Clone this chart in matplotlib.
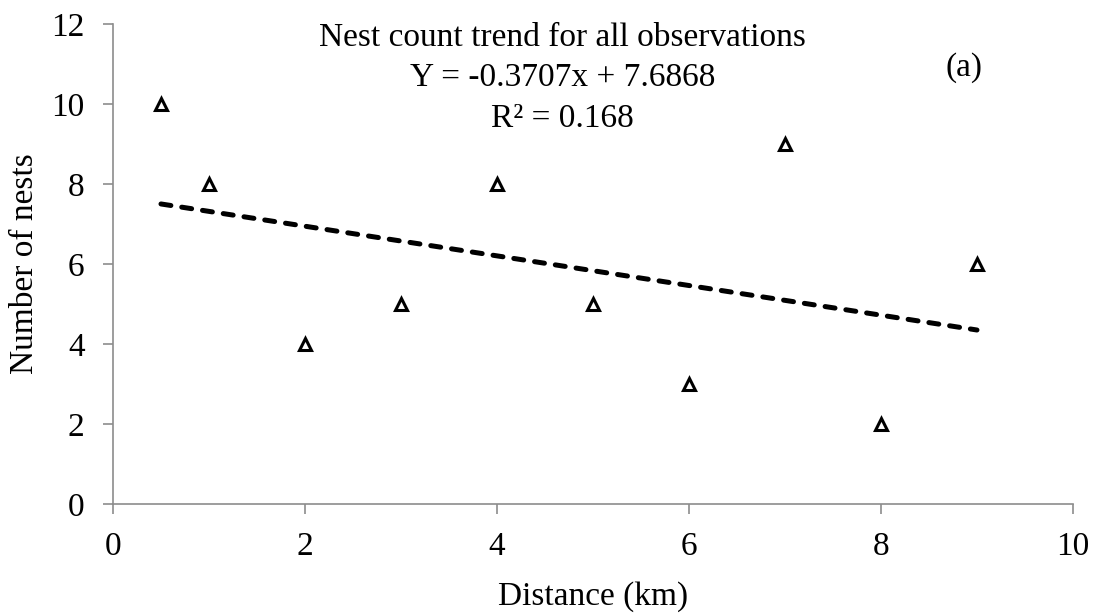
import numpy as np
from matplotlib import pyplot as plt

# Datos
distancia = [0.5, 1, 2, 3, 4, 5, 6, 7, 8, 9]
nidos = [10, 8, 4, 5, 8, 5, 3, 9, 2, 6]
xticks = [0, 2, 4, 6, 8, 10]
yticks = [0, 2, 4, 6, 8, 10, 12]

plt.rcParams['font.family'] = ['Liberation Serif', 'DejaVu Serif']

# Ajuste lineal (línea de tendencia)
m, b = np.polyfit(distancia, nidos, 1)
xs = np.array([min(distancia), max(distancia)])

fig = plt.figure(figsize=(10.98, 6.16), dpi=100)
ax = fig.add_axes([0.1029, 0.1818, 0.8743, 0.7792])

ax.plot(xs, m * xs + b, color='black', linewidth=3.6,
        linestyle=(0, (2.0, 2.2)), dash_capstyle='round')
ax.plot(distancia, nidos, '^', markersize=9, markerfacecolor='white',
        markeredgecolor='black', markeredgewidth=2.2)

ax.set_xlim(0, 10)
ax.set_ylim(0, 12)
ax.set_xticks(xticks)
ax.set_yticks(yticks)
for s in ['top', 'right']:
    ax.spines[s].set_visible(False)
for s in ['left', 'bottom']:
    ax.spines[s].set_color('#8c8c8c')
    ax.spines[s].set_linewidth(1.2)
ax.tick_params(direction='out', length=7.5, width=1.2, color='#8c8c8c',
               labelsize=24)
ax.tick_params(axis='x', pad=12)
ax.tick_params(axis='y', pad=13)

ax.set_xlabel("Distance (km)", fontsize=24, labelpad=14)
ax.set_ylabel("Number of nests", fontsize=24, labelpad=8)

ax.text(4.68, 10.65, "Nest count trend for all observations\n"
        f"Y = {m:.4f}x + {b:.4f}\nR² = 0.168",
        ha='center', va='center', fontsize=24, linespacing=1.42)
ax.text(8.87, 10.9, "(a)", ha='center', va='center', fontsize=24)

plt.savefig("out.png", dpi=100)
